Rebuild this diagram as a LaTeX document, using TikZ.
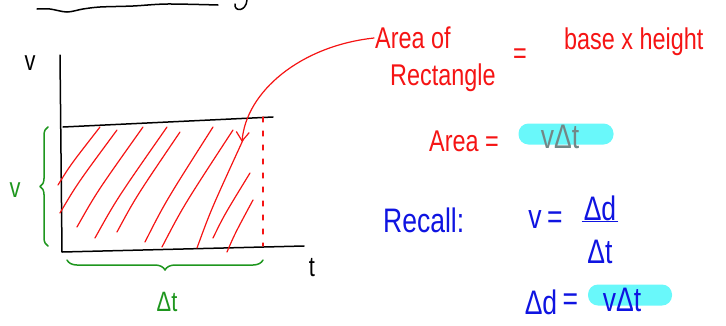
\documentclass[tikz,border=0pt]{standalone}
\usepackage{fontspec}
\setmainfont[FakeStretch=0.78]{Liberation Sans}
\usepackage{tikz}
\usetikzlibrary{arrows.meta,positioning,decorations.pathreplacing}
\definecolor{penred}{RGB}{245,20,20}
\definecolor{penblue}{RGB}{15,20,225}
\definecolor{pengreen}{RGB}{30,150,30}
\definecolor{hilite}{RGB}{105,248,250}
\definecolor{pengray}{RGB}{115,135,135}

\tikzset{
  ink/.style={line width=1.5pt,line cap=round,line join=round},
  hatch/.style={penred,line width=1.2pt,line cap=round},
  redtxt/.style={penred,font=\fontsize{30}{32}\selectfont,inner sep=1pt},
  bluetxt/.style={penblue,font=\fontsize{34}{36}\selectfont,inner sep=1pt},
  greentxt/.style={pengreen,font=\fontsize{28}{30}\selectfont,inner sep=1pt},
  blacktxt/.style={font=\fontsize{28}{30}\selectfont,inner sep=1pt},
  hlbox/.style={fill=hilite,rounded corners=10pt,minimum height=21pt,inner sep=0pt}
}

\begin{document}
\begin{tikzpicture}[x=1pt,y=-1pt,>=Stealth]
  \useasboundingbox (0,0) rectangle (726,325);
  % leftover stroke from the line above
  \draw[ink] plot[smooth] coordinates {(37,9) (50,9) (67,12) (83,9) (100,7) (133,6) (167,4) (218,5)};
  \draw[ink] (247,0) .. controls (246,12) and (234,12) .. (235,4);

  % axes and the top of the rectangle
  \coordinate (vtop) at (60,55);
  \coordinate (origin) at (62,252);
  \coordinate (tend) at (304,246);
  \draw[ink] (vtop) -- (origin) -- (tend);
  \draw[ink] (63,127) -- (273,117);
  \node[blacktxt] (vlab) at (30,63) {v};
  \node[blacktxt] (tlab) at (312,268) {t};

  % shaded area
  \foreach \xa/\ya/\xb/\yb in {58/185/100/127, 60/213/117/130, 77/227/143/127, 95/238/167/127,
                     117/232/180/132, 145/242/213/127, 162/247/233/130, 197/248/243/140,
                     213/238/250/173, 227/252/253/200}
    \draw[hatch] (\xa,\ya) .. controls ({\xa+0.3*(\xb-\xa)},{\ya+0.35*(\yb-\ya)}) .. (\xb,\yb);
  \draw[hatch,dash pattern=on 5pt off 9pt] (263,117) -- (263,246);

  % braces
  \draw[pengreen,ink,decorate,decoration={brace,amplitude=8pt}] (48,246) -- (48,127);
  \draw[pengreen,ink,decorate,decoration={brace,amplitude=10pt}] (263,260) -- (67,260);
  \node[greentxt] (vside) at (15,190) {v};
  \node[greentxt] (dtbase) at (167,302) {Δt};

  % area of the rectangle
  \node[redtxt,anchor=west] (areaof) at (374,38) {Area of};
  \node[redtxt,anchor=west] (rectword) at (389,78) {Rectangle};
  \node[redtxt] (eqa) at (520,56) {=};
  \node[redtxt,anchor=west] (basexh) at (563,42) {base x height};
  \coordinate (tip) at (242,142);
  \draw[hatch,-{Straight Barb[length=9pt,width=13pt]}] (areaof.west) .. controls (300,46) and (246,92) .. (tip);

  \node[redtxt,anchor=west] (area) at (428,141) {Area =};
  \node[hlbox,minimum width=95pt] (vdt1) at (566,134) {};
  \node[pengray,font=\fontsize{34}{36}\selectfont,inner sep=0pt] (vdt1txt) at (560,137) {vΔt};

  % recall
  \node[bluetxt,anchor=west] (recall) at (382,220) {Recall:};
  \node[bluetxt] (vsym) at (535,220) {v};
  \node[bluetxt,right=3pt of vsym] (eqb) {=};
  \node[bluetxt] (ddtop) at (600,208) {Δd};
  \node[bluetxt] (dtbot) at (600,252) {Δt};
  \draw[penblue,ink] (ddtop.south west) -- (ddtop.south east);

  \node[bluetxt] (dd2) at (541,302) {Δd};
  \node[bluetxt,right=3pt of dd2] (eqc) {=};
  \node[hlbox,minimum width=84pt] (vdt2) at (630,295) {};
  \node[penblue,font=\fontsize{34}{36}\selectfont,inner sep=0pt] (vdt2txt) at (622,300) {vΔt};
\end{tikzpicture}
\end{document}
